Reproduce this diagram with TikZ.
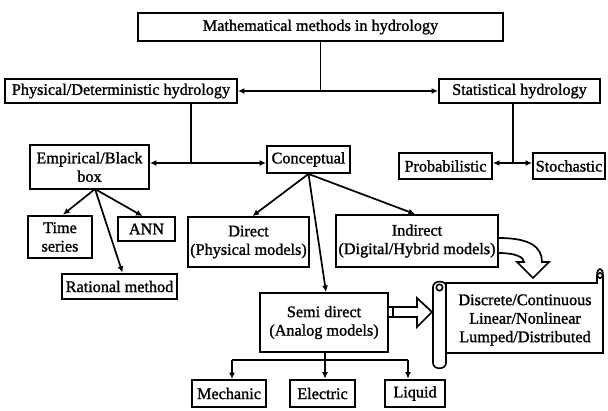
\documentclass[tikz,border=0pt]{standalone}
\usepackage{fontspec}
\setmainfont{Liberation Serif}[BoldFont=Liberation Serif, BoldFeatures={FakeBold=1.3}]
\usetikzlibrary{arrows.meta}
\begin{document}
\begin{tikzpicture}[x=1pt,y=-1pt,
  bx/.style={draw, line width=1.9pt, inner sep=0pt, align=center, font=\fontsize{16.2}{18.5}\selectfont\bfseries},
  thick box/.style={bx, line width=2.7pt},
  ln/.style={line width=1.7pt},
  con/.style={line width=1.7pt, -{Latex[length=6.5pt,width=6pt]}},
  both/.style={line width=1.7pt, {Latex[length=6.5pt,width=6pt]}-{Latex[length=6.5pt,width=6pt]}},
  outl/.style={line width=1.7pt, fill=white, line join=miter}]
\useasboundingbox (0,0) rectangle (608,410);
% nodes
\node[bx, minimum width=365, minimum height=28] (top) at (320.5,27) {Mathematical methods in hydrology};
\node[bx, minimum width=232, minimum height=24] (phys) at (121,91) {Physical/Deterministic hydrology};
\node[bx, minimum width=161, minimum height=24] (stat) at (519.5,91) {Statistical hydrology};
\node[bx, minimum width=119, minimum height=44] (emp) at (89.5,167) {Empirical/Black\\box};
\node[bx, minimum width=83, minimum height=27] (conc) at (308.5,159.5) {Conceptual};
\node[bx, minimum width=93, minimum height=26] (prob) at (445.5,166) {Probabilistic};
\node[bx, minimum width=72, minimum height=26] (stoch) at (569,166) {Stochastic};
\node[thick box, minimum width=64, minimum height=42] (ts) at (60,237) {Time\\series};
\node[bx, minimum width=57, minimum height=24] (ann) at (146.5,229) {ANN};
\node[thick box, minimum width=115, minimum height=25] (rat) at (119.5,286.5) {Rational method};
\node[bx, minimum width=121, minimum height=50] (dir) at (248.5,242) {Direct\\(Physical models)};
\node[bx, minimum width=162, minimum height=52] (ind) at (417,241) {Indirect\\(Digital/Hybrid models)};
\node[bx, minimum width=128, minimum height=59] (semi) at (324,322.5) {Semi direct\\(Analog models)};
\node[bx, minimum width=74, minimum height=27] (mech) at (229,393.5) {Mechanic};
\node[thick box, minimum width=65, minimum height=27] (elec) at (322.5,393.5) {Electric};
\node[thick box, minimum width=60, minimum height=27] (liq) at (415,393.5) {Liquid};
% top connections
\draw[ln] (top.south) -- (top.south |- phys.east);
\draw[both] (phys.east) -- (stat.west);
% physical branch
\coordinate (j1) at (191,163);
\draw[ln] (phys.south -| j1) -- (j1);
\draw[both] (emp.east |- j1) -- (conc.west |- j1);
% statistical branch
\coordinate (j2) at (513,163);
\draw[ln] (stat.south -| j2) -- (j2);
\draw[both] (prob.east |- j2) -- (stoch.west |- j2);
% empirical children
\coordinate (e0) at (95,189);
\draw[con] (e0) -- ([xshift=3pt]ts.north);
\draw[con] (e0) -- ([xshift=-4pt]ann.north);
\draw[con] (e0) -- ([xshift=3pt]rat.north);
% conceptual children
\draw[con] (conc.south) -- ([xshift=4pt]dir.north);
\draw[con] (conc.south) -- ([xshift=-2pt]ind.north);
\draw[con] (conc.south) -- ([xshift=2pt]semi.north);
% semi direct children
\coordinate (b0) at (325,360);
\coordinate (bl) at (232,360);
\coordinate (br) at (408,360);
\draw[ln] (semi.south -| b0) -- (b0);
\draw[ln] (bl) -- (br);
\draw[con] (bl) -- (bl |- mech.north);
\draw[con] (b0) -- (b0 |- elec.north);
\draw[con] (br) -- (br |- liq.north);
% scroll
\begin{scope}[line width=1.6pt]
\draw[fill=white] (446,283) -- (597,283) -- (597,275) .. controls (597,267) and (603,267) .. (603,275) -- (603,353) -- (446,353) -- cycle;
\draw[fill=white] (433,287) .. controls (433,280) and (446,280) .. (446,286) -- (446,363) .. controls (446,370) and (433,370) .. (433,363) -- cycle;
\draw (439.5,287.5) circle (3.2);
\draw (600,275.5) circle (2.6);
\end{scope}
\node[font=\fontsize{16.2}{18.5}\selectfont\bfseries, align=center, inner sep=0pt] (scr) at (525,320) {Discrete/Continuous\\Linear/Nonlinear\\Lumped/Distributed};
% outline arrows
\draw[outl] (semi.east |- 0,307) -- (417,307) -- (417,298) -- (432,312) -- (417,327) -- (417,317) -- (semi.east |- 0,317);
\draw[line width=1.2pt] (393,307.5) -- (393,316.5);
\draw[outl] (ind.east |- 0,238) .. controls (530,238) and (542,247) .. (542,262) -- (549,262) -- (533,278) -- (517,262) -- (524,262) .. controls (524,257) and (515,253) .. (ind.east |- 0,253);
\end{tikzpicture}
\end{document}
